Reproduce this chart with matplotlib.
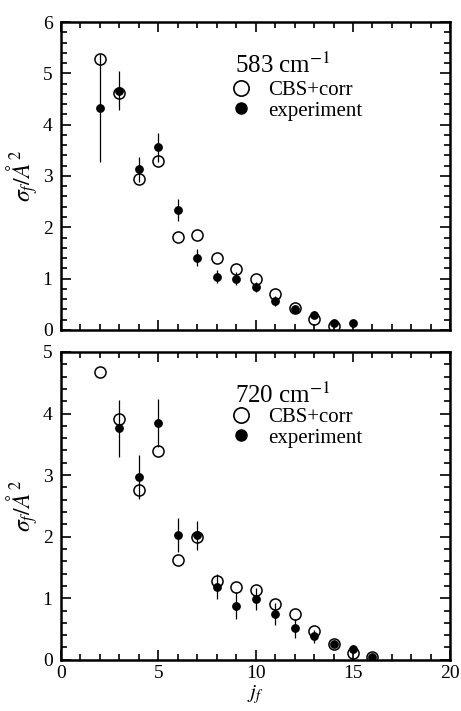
import matplotlib
matplotlib.use("Agg")
import matplotlib.pyplot as plt
from matplotlib.ticker import MultipleLocator, NullFormatter
from matplotlib.lines import Line2D

plt.rcParams['font.family'] = ['Liberation Serif', 'DejaVu Serif']
plt.rcParams['mathtext.fontset'] = 'stix'

# 583 cm-1 panel
j_calc_583 = [2, 3, 4, 5, 6, 7, 8, 9, 10, 11, 12, 13, 14]
calc_583 = [5.27, 4.61, 2.94, 3.29, 1.81, 1.85, 1.41, 1.19, 0.99, 0.69, 0.43, 0.21, 0.08]
j_exp_583 = [2, 3, 4, 5, 6, 7, 8, 9, 10, 11, 12, 13, 14, 15]
exp_583 = [4.32, 4.66, 3.13, 3.56, 2.34, 1.41, 1.04, 1.00, 0.84, 0.57, 0.40, 0.30, 0.14, 0.13]
err_583 = [1.05, 0.38, 0.24, 0.28, 0.21, 0.17, 0.12, 0.12, 0.10, 0.10, 0.07, 0.06, 0.04, 0.03]

# 720 cm-1 panel
j_calc_720 = [2, 3, 4, 5, 6, 7, 8, 9, 10, 11, 12, 13, 14, 15, 16]
calc_720 = [4.68, 3.91, 2.75, 3.39, 1.62, 2.00, 1.28, 1.19, 1.14, 0.90, 0.74, 0.47, 0.26, 0.11, 0.05]
j_exp_720 = [3, 4, 5, 6, 7, 8, 9, 10, 11, 12, 13, 14, 15, 16]
exp_720 = [3.76, 2.97, 3.85, 2.03, 2.02, 1.19, 0.88, 0.99, 0.74, 0.51, 0.38, 0.25, 0.17, 0.05]
err_720 = [0.46, 0.36, 0.39, 0.28, 0.24, 0.20, 0.22, 0.18, 0.18, 0.15, 0.10, 0.05, 0.07, 0.03]

panels = [
    ("583 cm$^{-1}$", j_calc_583, calc_583, j_exp_583, exp_583, err_583, 6, 5.15),
    ("720 cm$^{-1}$", j_calc_720, calc_720, j_exp_720, exp_720, err_720, 5, 4.29),
]

fig = plt.figure(figsize=(4.61, 7.11), dpi=100)
boxes = [[0.132, 0.536, 0.845, 0.433], [0.132, 0.072, 0.845, 0.433]]

for i, (title, jc, yc, je, ye, ee, ymax, ty) in enumerate(panels):
    ax = fig.add_axes(boxes[i])
    ax.plot(jc, yc, 'o', mfc='none', mec='black', mew=1.1, ms=8, zorder=2)
    ax.errorbar(je, ye, yerr=ee, fmt='o', color='black', ms=5.3,
                elinewidth=0.9, capsize=0, zorder=3)
    ax.set_xlim(0, 20)
    ax.set_ylim(0, ymax)
    ax.xaxis.set_major_locator(MultipleLocator(5))
    ax.xaxis.set_minor_locator(MultipleLocator(1))
    ax.yaxis.set_major_locator(MultipleLocator(1))
    ax.yaxis.set_minor_locator(MultipleLocator(0.2))
    ax.tick_params(which='both', direction='in', top=True, right=True,
                   labelsize=14, width=1.2)
    ax.tick_params(which='major', length=7)
    ax.tick_params(which='minor', length=4)
    ax.tick_params(axis='y', pad=6)
    for sp in ax.spines.values():
        sp.set_linewidth(1.8)
    ax.set_ylabel(r'$\sigma_f/\AA^2$', fontsize=17, labelpad=2)
    ax.text(8.95, ty, title, fontsize=18, va='center', ha='left')
    handles = [
        Line2D([], [], marker='o', ls='none', mfc='none', mec='black', mew=1.2, ms=11),
        Line2D([], [], marker='o', ls='none', color='black', ms=8),
    ]
    ax.legend(handles, ['CBS+corr', 'experiment'], loc='upper left',
              bbox_to_anchor=(0.435, 0.81 if i == 0 else 0.82), frameon=False,
              fontsize=15, handlelength=1.0, handletextpad=0.8,
              labelspacing=0.05, borderpad=0, borderaxespad=0)
    if i == 0:
        ax.xaxis.set_major_formatter(NullFormatter())
    else:
        ax.set_xlabel(r'$j_f$', fontsize=15, labelpad=1)

fig.savefig("out.png", dpi=100)
